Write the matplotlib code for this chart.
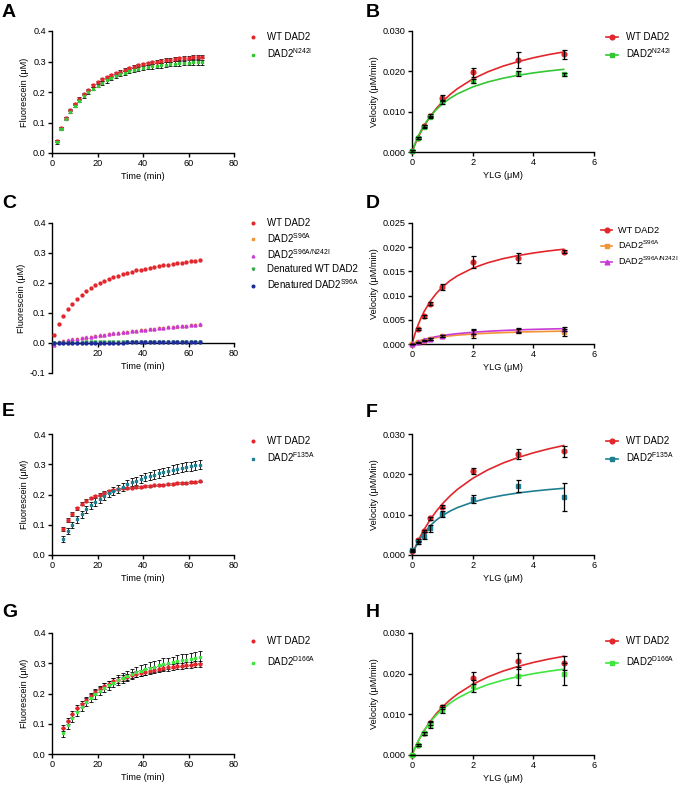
import numpy as np
import matplotlib
matplotlib.use('Agg')
import matplotlib.pyplot as plt

plt.rcParams['font.family'] = ['Liberation Sans', 'DejaVu Sans']
plt.rcParams['mathtext.default'] = 'regular'

# ---- colours
RED = '#e3262b'
GREEN = '#33c733'
ORANGE = '#f39433'
MAGENTA = '#c93ad6'
DGREEN = '#2fa84a'
BLUE = '#1f2a9c'
TEAL = '#1f7f92'
LGREEN = '#3ee63e'

# ---- A: time course, WT vs N242I
time_a = np.arange(2, 67, 2)
wt_a = [0.038, 0.082, 0.115, 0.140, 0.160, 0.178, 0.193, 0.207, 0.222, 0.232, 0.241,
        0.248, 0.255, 0.261, 0.267, 0.273, 0.278, 0.283, 0.287, 0.291, 0.294, 0.297,
        0.300, 0.302, 0.304, 0.306, 0.308, 0.310, 0.312, 0.313, 0.314, 0.315, 0.316]
wt_a_err = [0.003, 0.003, 0.003, 0.003, 0.003, 0.004, 0.004, 0.004, 0.004, 0.004, 0.004,
            0.004, 0.005, 0.005, 0.005, 0.005, 0.005, 0.005, 0.005, 0.005, 0.006, 0.006,
            0.006, 0.006, 0.006, 0.006, 0.006, 0.006, 0.006, 0.006, 0.006, 0.006, 0.006]
n242i_a = [0.035, 0.080, 0.112, 0.135, 0.155, 0.172, 0.186, 0.199, 0.211, 0.221, 0.230,
           0.238, 0.245, 0.252, 0.258, 0.263, 0.268, 0.272, 0.276, 0.279, 0.282, 0.284,
           0.286, 0.288, 0.290, 0.292, 0.293, 0.294, 0.295, 0.296, 0.297, 0.298, 0.298]
n242i_a_err = [0.006, 0.005, 0.005, 0.005, 0.005, 0.005, 0.006, 0.006, 0.006, 0.006, 0.006,
               0.007, 0.007, 0.007, 0.007, 0.007, 0.007, 0.007, 0.008, 0.008, 0.008, 0.008,
               0.008, 0.008, 0.008, 0.008, 0.008, 0.008, 0.008, 0.008, 0.008, 0.008, 0.008]

# ---- B/D/F/H: substrate concentrations and fitted-curve sample points
ylg = [0, 0.2, 0.4, 0.6, 1, 2, 3.5, 5]
ylg_fit = [0, 0.1, 0.2, 0.3, 0.4, 0.6, 0.8, 1, 1.25, 1.5, 2, 2.5, 3, 3.5, 4, 4.5, 5]

wt_b = [0.0003, 0.0035, 0.0065, 0.0090, 0.0135, 0.0198, 0.0228, 0.0242]
wt_b_err = [0.0002, 0.0002, 0.0003, 0.0004, 0.0006, 0.0011, 0.0020, 0.0011]
n242i_b = [0.0003, 0.0035, 0.0063, 0.0087, 0.0123, 0.0175, 0.0195, 0.0193]
n242i_b_err = [0.0002, 0.0002, 0.0003, 0.0003, 0.0004, 0.0005, 0.0006, 0.0004]
wt_b_fit = [0, 0.00189, 0.00357, 0.00508, 0.00644, 0.0088, 0.01078, 0.01245, 0.01422,
            0.01571, 0.0181, 0.01988, 0.02129, 0.0224, 0.02336, 0.02415, 0.0248]
n242i_b_fit = [0, 0.00208, 0.00385, 0.00536, 0.00667, 0.00882, 0.01053, 0.0119, 0.0133,
               0.01442, 0.01613, 0.01736, 0.01829, 0.01902, 0.01961, 0.02009, 0.02049]

# ---- C: time course, inactive mutants
time_c = np.arange(1, 66, 2)
wt_c = [0.028, 0.064, 0.090, 0.112, 0.130, 0.146, 0.160, 0.172, 0.183, 0.192, 0.200,
        0.207, 0.213, 0.219, 0.224, 0.229, 0.234, 0.238, 0.242, 0.245, 0.248, 0.251,
        0.254, 0.257, 0.259, 0.261, 0.264, 0.266, 0.268, 0.270, 0.272, 0.274, 0.276]
s96a_c = [0.000, 0.003, 0.006, 0.008, 0.011, 0.014, 0.016, 0.018, 0.021, 0.023, 0.025,
          0.027, 0.029, 0.031, 0.033, 0.035, 0.037, 0.039, 0.041, 0.042, 0.044, 0.046,
          0.047, 0.049, 0.050, 0.052, 0.053, 0.055, 0.056, 0.057, 0.059, 0.060, 0.061]
s96a_n242i_c = [-0.005, 0.003, 0.006, 0.009, 0.012, 0.014, 0.017, 0.019, 0.021, 0.023, 0.026,
                0.028, 0.030, 0.032, 0.034, 0.036, 0.038, 0.040, 0.041, 0.043, 0.045, 0.046,
                0.048, 0.050, 0.051, 0.053, 0.054, 0.056, 0.057, 0.058, 0.060, 0.061, 0.062]
den_wt_c = [0.000, 0.000, 0.001, 0.001, 0.001, 0.001, 0.001, 0.002, 0.002, 0.002, 0.002,
            0.002, 0.002, 0.003, 0.003, 0.003, 0.003, 0.003, 0.003, 0.003, 0.004, 0.004,
            0.004, 0.004, 0.004, 0.004, 0.004, 0.005, 0.005, 0.005, 0.005, 0.005, 0.005]
den_s96a_c = [0.000, 0.000, 0.000, 0.000, 0.000, 0.001, 0.001, 0.001, 0.001, 0.001, 0.001,
              0.001, 0.001, 0.001, 0.001, 0.001, 0.002, 0.002, 0.002, 0.002, 0.002, 0.002,
              0.002, 0.002, 0.002, 0.002, 0.002, 0.003, 0.003, 0.003, 0.003, 0.003, 0.003]

# ---- D
wt_d = [0.0, 0.0031, 0.0057, 0.0083, 0.0118, 0.0169, 0.0178, 0.0191]
wt_d_err = [0.0001, 0.0002, 0.0003, 0.0003, 0.0007, 0.0012, 0.0010, 0.0003]
s96a_d = [0.0, 0.0004, 0.0007, 0.0010, 0.0017, 0.0020, 0.0027, 0.0024]
s96a_d_err = [0.0001, 0.0001, 0.0001, 0.0002, 0.0002, 0.0008, 0.0004, 0.0008]
s96a_n242i_d = [0.0, 0.0004, 0.0008, 0.0011, 0.0017, 0.0025, 0.0029, 0.0031]
s96a_n242i_d_err = [0.0001, 0.0001, 0.0001, 0.0002, 0.0002, 0.0005, 0.0004, 0.0005]
wt_d_fit = [0, 0.00214, 0.00392, 0.00542, 0.00671, 0.00881, 0.01044, 0.01175, 0.01306,
            0.0141, 0.01567, 0.01679, 0.01763, 0.01828, 0.0188, 0.01923, 0.01958]
s96a_d_fit = [0, 0.000254, 0.00047, 0.00066, 0.000825, 0.0011, 0.00132, 0.0015, 0.00168,
              0.00183, 0.00206, 0.00223, 0.00236, 0.00246, 0.00254, 0.0026, 0.00266]
s96a_n242i_d_fit = [0, 0.000286, 0.000533, 0.00075, 0.00094, 0.00126, 0.00152, 0.00174, 0.00196,
                    0.00214, 0.00242, 0.00263, 0.00279, 0.00292, 0.00302, 0.0031, 0.00317]

# ---- E: time course, WT vs F135A
time_e = np.arange(5, 66, 2)
wt_e = [0.086, 0.116, 0.136, 0.154, 0.169, 0.180, 0.188, 0.195, 0.200, 0.206, 0.210,
        0.215, 0.218, 0.220, 0.222, 0.223, 0.225, 0.226, 0.227, 0.229, 0.230, 0.231,
        0.233, 0.234, 0.235, 0.237, 0.238, 0.239, 0.240, 0.241, 0.243]
wt_e_err = [0.008, 0.007, 0.006, 0.005, 0.005, 0.004, 0.004, 0.004, 0.004, 0.004, 0.004,
            0.004, 0.004, 0.003, 0.003, 0.003, 0.003, 0.003, 0.003, 0.003, 0.003, 0.003,
            0.003, 0.003, 0.003, 0.003, 0.003, 0.003, 0.003, 0.003, 0.003]
f135a_e = [0.053, 0.079, 0.099, 0.118, 0.134, 0.151, 0.164, 0.175, 0.185, 0.195, 0.204,
           0.213, 0.219, 0.226, 0.234, 0.240, 0.246, 0.251, 0.257, 0.261, 0.266, 0.270,
           0.274, 0.278, 0.282, 0.285, 0.289, 0.292, 0.294, 0.296, 0.299]
f135a_e_err = [0.010, 0.011, 0.011, 0.011, 0.011, 0.012, 0.012, 0.012, 0.012, 0.012, 0.012,
               0.013, 0.013, 0.013, 0.013, 0.013, 0.013, 0.014, 0.014, 0.014, 0.014, 0.014,
               0.014, 0.014, 0.014, 0.015, 0.015, 0.015, 0.015, 0.015, 0.015]

# ---- F
wt_f = [0.0010, 0.0036, 0.0060, 0.0091, 0.0120, 0.0208, 0.0251, 0.0257]
wt_f_err = [0.0002, 0.0003, 0.0003, 0.0003, 0.0003, 0.0008, 0.0013, 0.0013]
f135a_f = [0.0012, 0.0031, 0.0048, 0.0066, 0.0101, 0.0140, 0.0172, 0.0144]
f135a_f_err = [0.0002, 0.0004, 0.0008, 0.0008, 0.0007, 0.0010, 0.0015, 0.0034]
wt_f_fit = [0, 0.00181, 0.00345, 0.00496, 0.00633, 0.00877, 0.01086, 0.01267, 0.01462,
            0.01629, 0.019, 0.02111, 0.0228, 0.02418, 0.02533, 0.02631, 0.02714]
f135a_f_fit = [0, 0.00174, 0.0032, 0.00444, 0.00552, 0.00727, 0.00865, 0.00976, 0.01087,
               0.01176, 0.01311, 0.01408, 0.01481, 0.01538, 0.01584, 0.01622, 0.01653]

# ---- G: time course, WT vs D166A
time_g = np.arange(5, 66, 2)
wt_g = [0.085, 0.109, 0.132, 0.151, 0.166, 0.180, 0.192, 0.204, 0.214, 0.224, 0.232,
        0.240, 0.245, 0.251, 0.256, 0.260, 0.265, 0.269, 0.272, 0.276, 0.279, 0.281,
        0.284, 0.286, 0.288, 0.290, 0.292, 0.294, 0.295, 0.296, 0.297]
wt_g_err = [0.010, 0.010, 0.010, 0.010, 0.010, 0.010, 0.010, 0.010, 0.010, 0.010, 0.010,
            0.010, 0.010, 0.010, 0.010, 0.010, 0.010, 0.010, 0.010, 0.010, 0.010, 0.010,
            0.010, 0.010, 0.010, 0.010, 0.010, 0.010, 0.010, 0.010, 0.010]
d166a_g = [0.071, 0.096, 0.120, 0.138, 0.156, 0.171, 0.185, 0.197, 0.209, 0.219, 0.227,
           0.236, 0.244, 0.252, 0.258, 0.265, 0.270, 0.276, 0.280, 0.285, 0.289, 0.293,
           0.297, 0.300, 0.303, 0.307, 0.310, 0.312, 0.314, 0.318, 0.320]
d166a_g_err = [0.015, 0.014, 0.013, 0.013, 0.013, 0.013, 0.014, 0.014, 0.014, 0.015, 0.015,
               0.015, 0.016, 0.016, 0.016, 0.017, 0.017, 0.017, 0.018, 0.018, 0.018, 0.018,
               0.019, 0.019, 0.019, 0.019, 0.020, 0.020, 0.020, 0.020, 0.020]

# ---- H
wt_h = [0.0, 0.0024, 0.0053, 0.0079, 0.0117, 0.0190, 0.0231, 0.0226]
wt_h_err = [0.0001, 0.0002, 0.0003, 0.0005, 0.0005, 0.0015, 0.0019, 0.0017]
d166a_h = [0.0, 0.0024, 0.0053, 0.0073, 0.0110, 0.0170, 0.0194, 0.0199]
d166a_h_err = [0.0001, 0.0002, 0.0003, 0.0007, 0.0007, 0.0015, 0.0022, 0.0028]
wt_h_fit = [0, 0.00174, 0.0033, 0.00471, 0.006, 0.00825, 0.01015, 0.01179, 0.01352,
            0.015, 0.01737, 0.01919, 0.02063, 0.02179, 0.02276, 0.02357, 0.02426]
d166a_h_fit = [0, 0.0018, 0.003375, 0.00476, 0.006, 0.0081, 0.00982, 0.01125, 0.01274,
               0.01397, 0.01588, 0.01731, 0.01841, 0.01929, 0.02, 0.02059, 0.02109]

FS = 6.6

fig = plt.figure(figsize=(6.83, 7.86), dpi=100)
W, H = 683.0, 786.0


def add_ax(left, top, right, bottom):
    return fig.add_axes([left / W, 1 - bottom / H, (right - left) / W, (bottom - top) / H])


def style(ax):
    for s in ['top', 'right']:
        ax.spines[s].set_visible(False)
    for s in ['left', 'bottom']:
        ax.spines[s].set_linewidth(1.0)
    ax.tick_params(direction='out', length=3, width=1.0, labelsize=FS, pad=1.5)


def time_panel(ax, ylim, yticks):
    style(ax)
    ax.set_xlim(0, 80)
    ax.set_ylim(*ylim)
    ax.set_xticks([0, 20, 40, 60, 80])
    ax.set_yticks(yticks)
    ax.set_yticklabels(['%.1f' % v for v in yticks])
    ax.set_xlabel('Time (min)', fontsize=FS, labelpad=3)
    ax.set_ylabel('Fluorescein (\u03bcM)', fontsize=FS, labelpad=3)


def mm_panel(ax, ymax, yticks, ylabel):
    style(ax)
    ax.set_xlim(0, 6)
    ax.set_ylim(0, ymax)
    ax.set_xticks([0, 2, 4, 6])
    ax.set_yticks(yticks)
    ax.set_yticklabels(['%.3f' % v for v in yticks])
    ax.set_xlabel('YLG (\u03bcM)', fontsize=FS, labelpad=3)
    ax.set_ylabel(ylabel, fontsize=FS, labelpad=3)


def kin(ax, t, y, err, color, marker, label, ms=2.1):
    if err is not None:
        ax.errorbar(t, y, yerr=err, fmt='none', ecolor='black', elinewidth=0.6,
                    capsize=1.2, capthick=0.6, zorder=2, clip_on=False)
    ax.plot(t, y, linestyle='none', marker=marker, ms=ms, color=color,
            mec=color, label=label, zorder=3, clip_on=False)


def mm(ax, x, y, err, xf, yf, color, marker, label, ms=3.4):
    ax.plot(xf, yf, color=color, lw=1.2, zorder=2, clip_on=False)
    ax.plot(x, y, linestyle='none', marker=marker, ms=ms, color=color,
            zorder=3, clip_on=False)
    ax.errorbar(x, y, yerr=err, fmt='none', ecolor='black', elinewidth=0.9,
                capsize=1.8, capthick=0.9, zorder=4, clip_on=False)
    # legend proxy (line with marker)
    ax.plot([], [], color=color, lw=1.2, marker=marker, ms=ms, label=label)


def left_legend(ax, top, spacing):
    ax.legend(loc='upper left', bbox_to_anchor=(250 / W, 1 - top / H),
              bbox_transform=fig.transFigure, frameon=False, fontsize=FS + 0.3,
              handlelength=0.6, handletextpad=1.2, borderpad=0, borderaxespad=0,
              labelspacing=spacing, markerscale=0.9)


def right_legend(ax, top, spacing, fs=FS + 0.3, x=606, hl=1.3, pad=0.8):
    ax.legend(loc='upper left', bbox_to_anchor=(x / W, 1 - top / H),
              bbox_transform=fig.transFigure, frameon=False, fontsize=fs,
              handlelength=hl, handletextpad=pad, borderpad=0, borderaxespad=0,
              labelspacing=spacing)


def letter(x, y, s):
    fig.text(x / W, 1 - y / H, s, fontsize=14, fontweight='bold', va='top', ha='left')


vel_label = 'Velocity (\u03bcM/min)'

# A
ax = add_ax(52, 31, 234, 153)
time_panel(ax, (0, 0.4), [0.0, 0.1, 0.2, 0.3, 0.4])
kin(ax, time_a, wt_a, wt_a_err, RED, 'o', 'WT DAD2')
kin(ax, time_a, n242i_a, n242i_a_err, GREEN, 's', 'DAD2$^{N242I}$')
left_legend(ax, 32, 0.45)

# B
ax = add_ax(412, 31, 594, 152)
mm_panel(ax, 0.030, [0.0, 0.01, 0.02, 0.03], vel_label)
mm(ax, ylg, wt_b, wt_b_err, ylg_fit, wt_b_fit, RED, 'o', 'WT DAD2')
mm(ax, ylg, n242i_b, n242i_b_err, ylg_fit, n242i_b_fit, GREEN, 's', 'DAD2$^{N242I}$')
right_legend(ax, 32, 0.45)

# C
ax = add_ax(52, 223, 234, 373)
time_panel(ax, (-0.1, 0.4), [-0.1, 0.0, 0.1, 0.2, 0.3, 0.4])
ax.spines['bottom'].set_position(('data', 0))
ax.set_xticklabels(['', '20', '40', '60', '80'])
kin(ax, time_c, wt_c, None, RED, 'o', 'WT DAD2')
kin(ax, time_c, s96a_c, None, ORANGE, 's', 'DAD2$^{S96A}$')
kin(ax, time_c, s96a_n242i_c, None, MAGENTA, '^', 'DAD2$^{S96A/N242I}$')
kin(ax, time_c, den_wt_c, None, DGREEN, 'v', 'Denatured WT DAD2')
kin(ax, time_c, den_s96a_c, None, BLUE, 'o', 'Denatured DAD2$^{S96A}$')
left_legend(ax, 218, 0.3)

# D
ax = add_ax(412, 223, 594, 344)
mm_panel(ax, 0.025, [0.0, 0.005, 0.01, 0.015, 0.02, 0.025], vel_label)
mm(ax, ylg, wt_d, wt_d_err, ylg_fit, wt_d_fit, RED, 'o', 'WT DAD2')
mm(ax, ylg, s96a_d, s96a_d_err, ylg_fit, s96a_d_fit, ORANGE, 's', 'DAD2$^{S96A}$')
mm(ax, ylg, s96a_n242i_d, s96a_n242i_d_err, ylg_fit, s96a_n242i_d_fit, MAGENTA, '^',
   'DAD2$^{S96A/N242I}$')
right_legend(ax, 226, 0.4, fs=FS, x=601, hl=1.2, pad=0.6)

# E
ax = add_ax(52, 434, 234, 555)
time_panel(ax, (0, 0.4), [0.0, 0.1, 0.2, 0.3, 0.4])
kin(ax, time_e, wt_e, wt_e_err, RED, 'o', 'WT DAD2')
kin(ax, time_e, f135a_e, f135a_e_err, TEAL, 's', 'DAD2$^{F135A}$')
left_legend(ax, 436, 0.45)

# F
ax = add_ax(412, 434, 594, 555)
mm_panel(ax, 0.030, [0.0, 0.01, 0.02, 0.03], 'Velocity (\u03bcM/Min)')
mm(ax, ylg, wt_f, wt_f_err, ylg_fit, wt_f_fit, RED, 'o', 'WT DAD2')
mm(ax, ylg, f135a_f, f135a_f_err, ylg_fit, f135a_f_fit, TEAL, 's', 'DAD2$^{F135A}$')
right_legend(ax, 436, 0.45)

# G
ax = add_ax(52, 633, 234, 754)
time_panel(ax, (0, 0.4), [0.0, 0.1, 0.2, 0.3, 0.4])
kin(ax, time_g, wt_g, wt_g_err, RED, 'o', 'WT DAD2')
kin(ax, time_g, d166a_g, d166a_g_err, LGREEN, 's', 'DAD2$^{D166A}$')
left_legend(ax, 636, 0.9)

# H
ax = add_ax(412, 633, 594, 755)
mm_panel(ax, 0.030, [0.0, 0.01, 0.02, 0.03], vel_label)
mm(ax, ylg, wt_h, wt_h_err, ylg_fit, wt_h_fit, RED, 'o', 'WT DAD2')
mm(ax, ylg, d166a_h, d166a_h_err, ylg_fit, d166a_h_fit, LGREEN, 's', 'DAD2$^{D166A}$')
right_legend(ax, 636, 0.9)

letter(2, 4, 'A')
letter(366, 4, 'B')
letter(2, 195, 'C')
letter(366, 195, 'D')
letter(2, 403, 'E')
letter(366, 404, 'F')
letter(2, 604, 'G')
letter(366, 604, 'H')

fig.savefig('out.png', dpi=100)
